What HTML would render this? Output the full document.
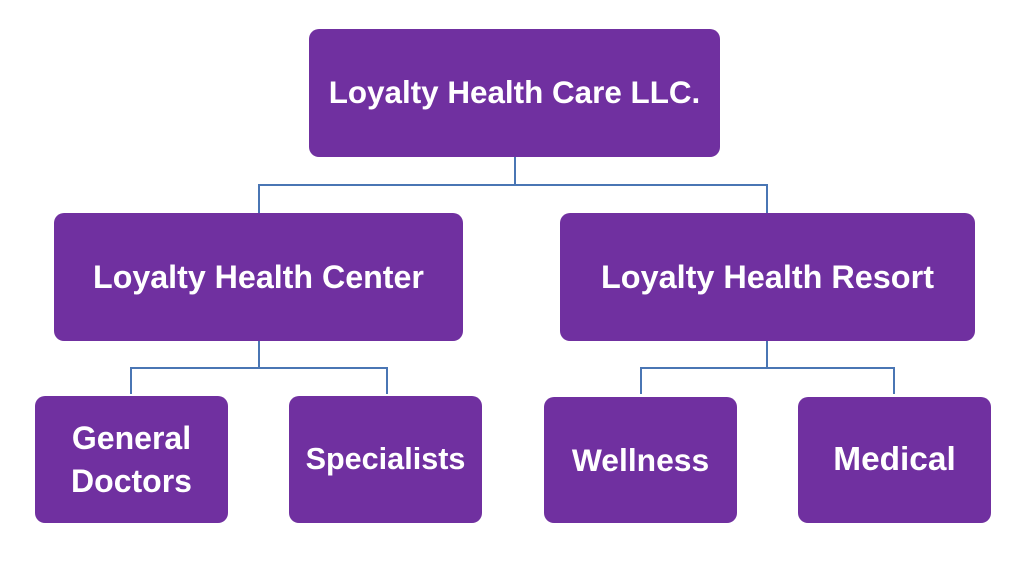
<!DOCTYPE html>
<html>
<head>
<meta charset="utf-8">
<style>
  html, body { margin:0; padding:0; background:#ffffff; }
  body { width:1024px; height:565px; position:relative; overflow:hidden; }
  .box {
    position:absolute; background:#7030A0; border-radius:10px;
    display:flex; align-items:center; justify-content:center; text-align:center;
    color:#ffffff; font-family:"Liberation Sans", Arial, sans-serif; font-weight:bold;
    white-space:nowrap;
  }
  svg { position:absolute; left:0; top:0; }
</style>
</head>
<body>
<svg width="1024" height="565" viewBox="0 0 1024 565">
  <g stroke="#4A76B4" stroke-width="2" fill="none">
    <line x1="515" y1="157" x2="515" y2="185"/>
    <line x1="258" y1="185" x2="768" y2="185"/>
    <line x1="259" y1="184" x2="259" y2="213"/>
    <line x1="767" y1="184" x2="767" y2="213"/>
    <line x1="259" y1="341" x2="259" y2="368"/>
    <line x1="130" y1="368" x2="388" y2="368"/>
    <line x1="131" y1="367" x2="131" y2="394"/>
    <line x1="387" y1="367" x2="387" y2="394"/>
    <line x1="767" y1="341" x2="767" y2="368"/>
    <line x1="640" y1="368" x2="895" y2="368"/>
    <line x1="641" y1="367" x2="641" y2="394"/>
    <line x1="894" y1="367" x2="894" y2="394"/>
  </g>
</svg>

<div class="box" style="left:309px;top:29px;width:411px;height:128px;font-size:31.4px;">Loyalty Health Care LLC.</div>

<div class="box" style="left:54px;top:213px;width:409px;height:128px;font-size:32.2px;">Loyalty Health Center</div>
<div class="box" style="left:560px;top:213px;width:415px;height:128px;font-size:32.4px;">Loyalty Health Resort</div>

<div class="box" style="left:35px;top:396px;width:193px;height:127px;font-size:32px;line-height:43px;">General<br>Doctors</div>
<div class="box" style="left:289px;top:396px;width:193px;height:127px;font-size:30.6px;">Specialists</div>
<div class="box" style="left:544px;top:397px;width:193px;height:126px;font-size:31.8px;">Wellness</div>
<div class="box" style="left:798px;top:397px;width:193px;height:126px;font-size:33.4px;">Medical</div>
</body>
</html>
